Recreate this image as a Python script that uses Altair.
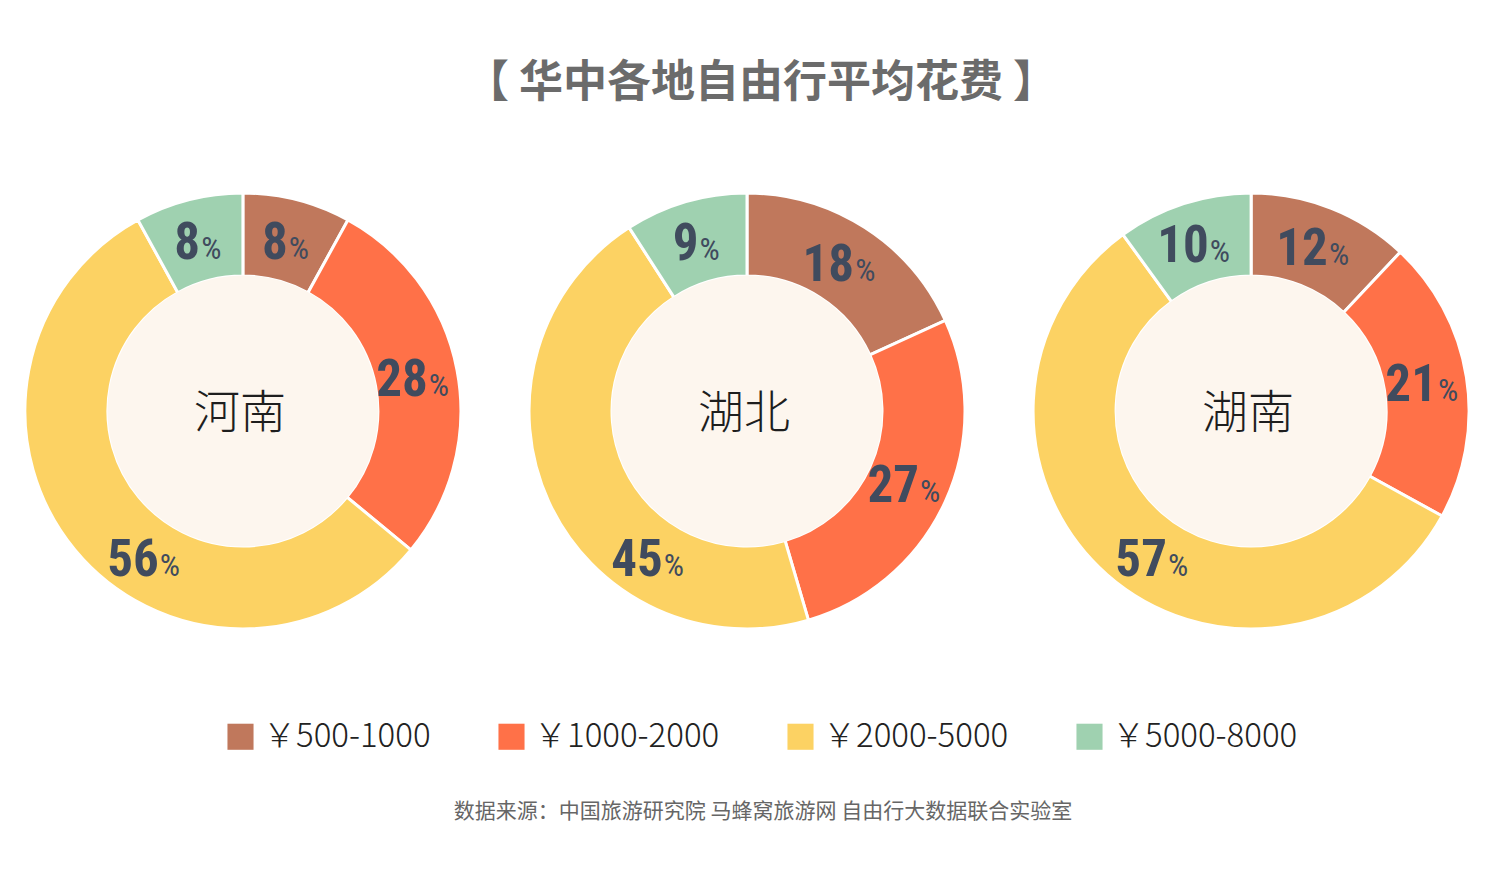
import altair as alt
import pandas as pd

cities = ["河南", "湖北", "湖南"]
ranges = ["￥500-1000", "￥1000-2000", "￥2000-5000", "￥5000-8000"]
henan = [8, 28, 56, 8]
hubei = [18, 27, 45, 9]
hunan = [12, 21, 57, 10]
colors = ["#C0785C", "#FF7148", "#FCD263", "#9FD1B0"]

title_text = "【 华中各地自由行平均花费 】"
source_text = "数据来源：中国旅游研究院 马蜂窝旅游网 自由行大数据联合实验室"

rows = []
for city, vals in zip(cities, [henan, hubei, hunan]):
    for k, (r, v) in enumerate(zip(ranges, vals)):
        rows.append({"city": city, "range": r, "k": k, "v": v})
df = pd.DataFrame(rows)
city_df = pd.DataFrame({"city": cities})
src_df = pd.DataFrame({"t": [source_text]})

CJK = "Noto Sans CJK SC"
NUM = "Roboto Condensed, Liberation Sans Narrow, Roboto"
CY = 283
LABEL_COLOR = "#404B5E"

xenc = alt.X("city:N", sort=cities, axis=None,
             scale=alt.Scale(type="point", padding=0.466))
theta_scale = alt.Scale(domain=[0, 1], range=[0, 6.283185307])

base = alt.Chart(df).transform_joinaggregate(
    total="sum(v)", groupby=["city"]
).transform_window(
    cum="sum(v)", sort=[alt.SortField("k")], groupby=["city"], frame=[None, 0]
).transform_calculate(
    t1="datum.cum / datum.total",
    t0="(datum.cum - datum.v) / datum.total",
).transform_calculate(
    mid="(datum.t0 + datum.t1) / 2"
).transform_calculate(
    lt="datum.v >= 40 ? 0.592 : datum.mid"
)

ring = base.mark_arc(radius=218, radius2=135, stroke="white", strokeWidth=3).encode(
    x=xenc,
    y=alt.value(CY),
    theta=alt.Theta("t0:Q", scale=theta_scale, stack=None),
    theta2="t1:Q",
    color=alt.Color("range:N", sort=ranges,
                    scale=alt.Scale(domain=ranges, range=colors),
                    legend=alt.Legend(
                        title=None, orient="none", direction="horizontal",
                        legendX=216, legendY=592,
                        symbolType="square", symbolSize=680,
                        symbolStrokeWidth=0, symbolOpacity=1,
                        labelFont=CJK, labelFontSize=33, labelFontWeight=300,
                        labelColor="#222222", labelOffset=6,
                        columnPadding=64, padding=0, labelLimit=400)),
)

disc = alt.Chart(city_df).mark_arc(
    radius=135.5, radius2=0, theta=0, theta2=6.2832, color="#FDF6EE"
).encode(x=xenc, y=alt.value(CY))

city_text = alt.Chart(city_df).mark_text(
    font=CJK, fontSize=46, fontWeight=300, color="#1e1e1e",
    align="center", baseline="middle", dx=-3
).encode(x=xenc, y=alt.value(CY + 3), text="city:N")


def label_layers(cond, shift):
    sub = base.transform_filter(cond)
    enc = dict(
        x=xenc, y=alt.value(CY),
        theta=alt.Theta("lt:Q", scale=theta_scale, stack=None),
    )
    num = sub.mark_text(
        radius=176, align="right", baseline="alphabetic", dx=shift, dy=18,
        font=NUM, fontSize=51, fontWeight="bold", color=LABEL_COLOR
    ).encode(text=alt.Text("v:Q", format="d"), **enc)
    pct = sub.mark_text(
        radius=176, align="left", baseline="alphabetic", dx=shift + 1, dy=18,
        font=NUM, fontSize=32, fontWeight="normal", color=LABEL_COLOR
    ).encode(text=alt.value("%"), **enc)
    return [num, pct]


labels = label_layers("datum.v >= 10", 12) + label_layers("datum.v < 10", 1)

source = alt.Chart(src_df).mark_text(
    font=CJK, fontSize=21, color="#666666", align="center", baseline="middle"
).encode(x=alt.value(755), y=alt.value(684), text="t:N")

chart = alt.layer(ring, disc, city_text, *labels, source).properties(
    width=1478, height=757,
    padding={"left": 0, "top": 120, "right": 6, "bottom": 0},
    autosize=alt.AutoSizeParams(type="none"),
    title=alt.TitleParams(title_text, anchor="middle", fontSize=44, font=CJK,
                          fontWeight="bold", color="#6B6B6B", offset=22, dx=14),
).configure(background="white").configure_view(strokeWidth=0)

chart.save("out.html", embed_options={"renderer": "svg", "actions": False})
